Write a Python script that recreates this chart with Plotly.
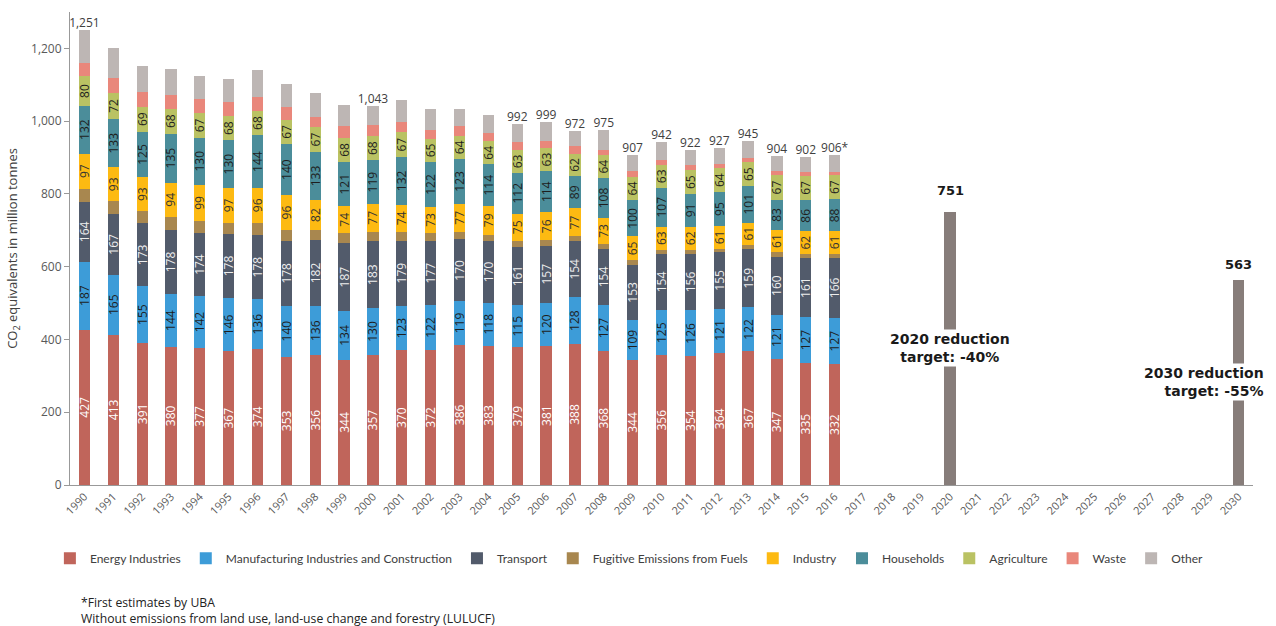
import plotly.graph_objects as go

years = list(range(1990, 2017))
energy = [427, 413, 391, 380, 377, 367, 374, 353, 356, 344, 357, 370, 372, 386, 383, 379, 381, 388, 368, 344, 356, 354, 364, 367, 347, 335, 332]
manufacturing = [187, 165, 155, 144, 142, 146, 136, 140, 136, 134, 130, 123, 122, 119, 118, 115, 120, 128, 127, 109, 125, 126, 121, 122, 121, 127, 127]
transport = [164, 167, 173, 178, 174, 178, 178, 178, 182, 187, 183, 179, 177, 170, 170, 161, 157, 154, 154, 153, 154, 156, 155, 159, 160, 161, 166]
fugitive = [36, 35, 34, 35, 33, 29, 33, 30, 27, 27, 26, 24, 21, 21, 17, 16, 15, 13, 13, 12, 12, 11, 10, 12, 12, 12, 11]
industry = [97, 93, 93, 94, 99, 97, 96, 96, 82, 74, 77, 74, 73, 77, 79, 75, 76, 77, 73, 65, 63, 62, 61, 61, 61, 62, 61]
households = [132, 133, 125, 135, 130, 130, 144, 140, 133, 121, 119, 132, 122, 123, 114, 112, 114, 89, 108, 100, 107, 91, 95, 101, 83, 86, 88]
agriculture = [80, 72, 69, 68, 67, 68, 68, 67, 67, 68, 68, 67, 65, 64, 64, 63, 63, 62, 64, 64, 63, 65, 64, 65, 67, 67, 67]
waste = [38, 40, 39, 39, 39, 37, 37, 35, 29, 31, 29, 28, 24, 26, 23, 21, 20, 20, 15, 15, 14, 14, 13, 12, 11, 11, 9]
other = [90, 84, 73, 69, 64, 65, 74, 64, 65, 58, 54, 60, 58, 48, 50, 50, 53, 41, 53, 45, 48, 43, 44, 46, 42, 41, 45]

total_years = [1990, 2000, 2005, 2006, 2007, 2008, 2009, 2010, 2011, 2012, 2013, 2014, 2015, 2016]
total_values = [1251, 1043, 992, 999, 972, 975, 907, 942, 922, 927, 945, 904, 902, 906]
total_labels = ["1,251", "1,043", "992", "999", "972", "975", "907", "942", "922", "927", "945", "904", "902", "906*"]

target_years = [2020, 2030]
target_values = [751, 563]
target_texts = ["2020 reduction<br>target: -40%", "2030 reduction<br>target: -55%"]

all_years = list(range(1990, 2031))

series = [
    ("Energy Industries", energy, "#C0655B", "white", True),
    ("Manufacturing Industries and Construction", manufacturing, "#3D9CD8", "#1e1e1e", True),
    ("Transport", transport, "#525B6B", "#eeeeee", True),
    ("Fugitive Emissions from Fuels", fugitive, "#A8874F", "#222", False),
    ("Industry", industry, "#FDBA12", "#333", True),
    ("Households", households, "#4B8D9A", "#1e1e1e", True),
    ("Agriculture", agriculture, "#BAC263", "#1e1e1e", True),
    ("Waste", waste, "#E9877B", "#222", False),
    ("Other", other, "#BDB6B4", "#222", False),
]

fig = go.Figure()
for name, vals, color, tcolor, show_text in series:
    fig.add_trace(go.Bar(
        x=years, y=vals, name=name, marker=dict(color=color, line=dict(width=0)),
        text=[str(v) for v in vals] if show_text else None,
        textposition="inside" if show_text else "none",
        insidetextanchor="middle", textangle=-90,
        insidetextfont=dict(family="Open Sans", size=12, color=tcolor),
    ))

fig.add_trace(go.Bar(
    x=target_years, y=target_values, name="Target", showlegend=False,
    marker=dict(color="#877D7A", line=dict(width=0)), textposition="none",
))

fig.add_trace(go.Scatter(
    x=total_years, y=total_values, mode="text", text=total_labels,
    textposition="top center", showlegend=False,
    textfont=dict(family="Open Sans", size=12, color="#404040"),
))

for yr, val, ys in zip(target_years, target_values, [12, 6]):
    fig.add_annotation(x=yr, y=val, text="<b>%d</b>" % val, showarrow=False,
                       yanchor="bottom", yshift=ys,
                       font=dict(family="DejaVu Sans", size=13, color="#1a1a1a"))

fig.add_annotation(x=target_years[0], y=376, text="<b>" + target_texts[0] + "</b>",
                   showarrow=False, xanchor="center", yanchor="middle",
                   bgcolor="white", borderpad=1,
                   font=dict(family="DejaVu Sans", size=14, color="#1a1a1a"))
fig.add_annotation(x=target_years[1], y=282, text="<b>" + target_texts[1] + "</b>",
                   showarrow=False, xanchor="right", yanchor="middle", align="right",
                   xshift=27, bgcolor="white", borderpad=1,
                   font=dict(family="DejaVu Sans", size=14, color="#1a1a1a"))

fig.add_annotation(xref="paper", yref="paper", x=0.0085, y=-0.2484,
                   text="*First estimates by UBA", borderpad=0,
                   showarrow=False, xanchor="left", yanchor="middle", align="left",
                   font=dict(family="Open Sans", size=12.2, color="#222"))
fig.add_annotation(xref="paper", yref="paper", x=0.0085, y=-0.2818,
                   text="Without emissions from land use, land-use change and forestry (LULUCF)",
                   borderpad=0,
                   showarrow=False, xanchor="left", yanchor="middle", align="left",
                   font=dict(family="Open Sans", size=12.2, color="#222"))

fig.update_layout(
    width=1276, height=626,
    margin=dict(l=70, r=23, t=12, b=141),
    barmode="stack", bargap=0.61,
    plot_bgcolor="white", paper_bgcolor="white",
    uniformtext=dict(minsize=12, mode="show"),
    legend=dict(orientation="h", x=-0.017, y=-0.155, xanchor="left", yanchor="middle",
                traceorder="normal", font=dict(family="Lato", size=12, color="#404040"),
                itemwidth=30),
    xaxis=dict(range=[1989.5, 2030.5], tickmode="array", tickvals=all_years,
               ticktext=[str(y) for y in all_years], tickangle=-45,
               showline=True, linecolor="#999", showgrid=False, zeroline=False,
               tickfont=dict(family="Open Sans", size=11, color="#595959")),
    yaxis=dict(range=[0, 1300], tickvals=[0, 200, 400, 600, 800, 1000, 1200], tickformat=",d",
               showline=True, linecolor="#999", ticks="outside", ticklen=5, tickcolor="#999",
               showgrid=False, zeroline=False,
               tickfont=dict(family="Open Sans", size=12, color="#595959"),
               title=dict(text="CO<sub>2</sub> equivalents in million tonnes", standoff=10,
                          font=dict(family="Open Sans", size=13, color="#404040"))),
)

fig.write_html("out.html")
